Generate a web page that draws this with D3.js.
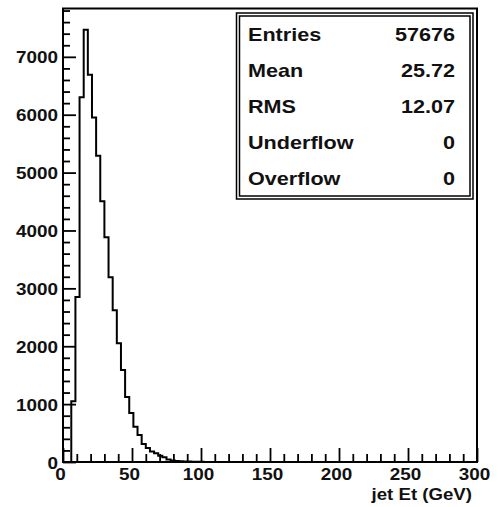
<!DOCTYPE html>
<html><head><meta charset="utf-8">
<script src="https://cdn.jsdelivr.net/npm/d3@7"></script>
<style>
body{margin:0;background:#fff}
svg{display:block}
text{font-family:"Liberation Sans",Arial,Helvetica,sans-serif;font-weight:bold;fill:#111}
</style>
</head><body>
<svg id="c" width="500" height="507"></svg>
<script>
// ---- data ----
const binLow = 0;
const binWidth = 3;
const counts = [0, 0, 1050, 2850, 6300, 7470, 6690, 5950, 5290, 4505, 3885, 3190, 2620, 2050,
  1590, 1125, 845, 610, 465, 310, 240, 180, 150, 110, 80, 45, 25, 18, 12, 9, 7, 5, 4, 3, 2];
const xDomain = [0, 300];
const yDomain = [0, 7835];
const xMajorTicks = [0, 50, 100, 150, 200, 250, 300];
const yMajorTicks = [0, 1000, 2000, 3000, 4000, 5000, 6000, 7000];
const statLabels = ["Entries", "Mean", "RMS", "Underflow", "Overflow"];
const statValues = ["57676", "25.72", "12.07", "0", "0"];
const xTitle = "jet Et (GeV)";

// ---- layout ----
const W = 500, H = 507;
const frame = {left: 63, right: 477, top: 8.5, bottom: 462};
const svg = d3.select("#c");

const x = d3.scaleLinear().domain(xDomain).range([frame.left, frame.right]);
const y = d3.scaleLinear().domain(yDomain).range([frame.bottom, frame.top]);

const sx = 1.18;

// histogram outline
const pts = [[xDomain[0], 0]];
counts.forEach((c, i) => {
  const lo = binLow + i * binWidth, hi = lo + binWidth;
  pts.push([lo, c], [hi, c]);
});
pts.push([binLow + counts.length * binWidth, 0], [xDomain[1], 0]);
const line = d3.line().x(d => x(d[0])).y(d => y(d[1]));
svg.append("path").attr("d", line(pts))
  .attr("fill", "none").attr("stroke", "#000").attr("stroke-width", 2)
  .attr("stroke-linejoin", "miter");

// y axis ticks
const yMinor = d3.range(0, yDomain[1], 200).filter(v => v % 1000 !== 0);
const gyMinor = svg.append("g").attr("transform", `translate(${frame.left},0)`)
  .call(d3.axisLeft(y).tickValues(yMinor).tickSize(-7).tickFormat(""));
const gy = svg.append("g").attr("transform", `translate(${frame.left},0)`)
  .call(d3.axisLeft(y).tickValues(yMajorTicks).tickSize(-13).tickFormat(d3.format("d")));
[gy, gyMinor].forEach(g => {
  g.select(".domain").remove();
  g.selectAll("line").attr("stroke", "#000").attr("stroke-width", 1.8);
});
gy.selectAll("text").attr("x", null).attr("dy", null)
  .attr("text-anchor", "end").attr("font-size", 16).attr("fill", "#111")
  .attr("transform", `translate(-5,6) scale(${sx},1)`);

// x axis ticks
const xMinor = d3.range(0, xDomain[1], 10).filter(v => v % 50 !== 0);
const gxMinor = svg.append("g").attr("transform", `translate(0,${frame.bottom})`)
  .call(d3.axisBottom(x).tickValues(xMinor).tickSize(-8).tickFormat(""));
const gx = svg.append("g").attr("transform", `translate(0,${frame.bottom})`)
  .call(d3.axisBottom(x).tickValues(xMajorTicks).tickSize(-14).tickFormat(d3.format("d")));
[gx, gxMinor].forEach(g => {
  g.select(".domain").remove();
  g.selectAll("line").attr("stroke", "#000").attr("stroke-width", 1.8);
});
gx.selectAll("text").attr("y", null).attr("dy", null)
  .attr("text-anchor", "middle").attr("font-size", 16).attr("fill", "#111")
  .attr("transform", `translate(-3,18) scale(${sx},1)`);

// frame
svg.append("rect")
  .attr("x", frame.left).attr("y", frame.top)
  .attr("width", frame.right - frame.left).attr("height", frame.bottom - frame.top)
  .attr("fill", "none").attr("stroke", "#000").attr("stroke-width", 2);

// axis title
svg.append("text").text(xTitle)
  .attr("text-anchor", "end").attr("font-size", 16.5)
  .attr("transform", `translate(472,500) scale(1.13,1)`);

// stats box
const box = {x0: 236.5, x1: 473, y0: 13, y1: 199};
svg.append("rect").attr("x", box.x0).attr("y", box.y0)
  .attr("width", box.x1 - box.x0).attr("height", box.y1 - box.y0)
  .attr("fill", "#fff").attr("stroke", "#000").attr("stroke-width", 1.5);
svg.append("rect").attr("x", box.x0 + 3).attr("y", box.y0 + 3)
  .attr("width", box.x1 - box.x0 - 6).attr("height", box.y1 - box.y0 - 6)
  .attr("fill", "none").attr("stroke", "#000").attr("stroke-width", 1.5);

const rows = d3.scaleBand().domain(statLabels).range([box.y0 + 3, box.y1 - 3]);
const g = svg.append("g");
statLabels.forEach((lab, i) => {
  const cy = rows(lab) + rows.bandwidth() / 2 + 6.5;
  g.append("text").text(lab).attr("font-size", 18)
    .attr("transform", `translate(248,${cy}) scale(1.2,1)`);
  g.append("text").text(statValues[i]).attr("font-size", 18).attr("text-anchor", "end")
    .attr("transform", `translate(455,${cy}) scale(1.2,1)`);
});
</script>
</body></html>
